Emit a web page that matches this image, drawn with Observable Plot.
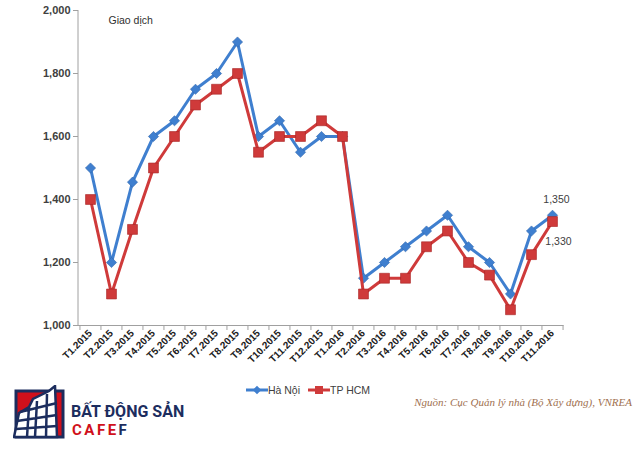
<!DOCTYPE html>
<html>
<head>
<meta charset="utf-8">
<script src="https://cdn.jsdelivr.net/npm/d3@7"></script>
<script src="https://cdn.jsdelivr.net/npm/@observablehq/plot@0.6"></script>
<style>
  html, body { margin: 0; padding: 0; background: #fff; }
  #wrap { position: relative; width: 640px; height: 456px; overflow: hidden; font-family: Arial, "Liberation Sans", sans-serif; }
  #chart svg { display: block; }
  #legend { position: absolute; left: 0; top: 384px; width: 616px; display: flex; justify-content: center; align-items: center; font-size: 10.5px; color: #404040; }
  .lg { display: flex; align-items: center; margin: 0 4px; }
  #source { position: absolute; right: 8px; top: 396px; font-family: "Liberation Serif", "DejaVu Serif", serif; font-style: italic; font-size: 11px; color: #a0704f; }
  #logo { position: absolute; left: 13px; top: 385px; }
  #logotext1 { position: absolute; left: 71px; top: 402px; font-family: "Roboto", Arial, sans-serif; font-weight: 700; font-size: 16px; color: #1c2d5e; letter-spacing: 0px; }
  #logotext2 { position: absolute; left: 72px; top: 421px; font-family: "Roboto", Arial, sans-serif; font-weight: 700; font-size: 15px; color: #d0101b; letter-spacing: 2.5px; }
  #logotext2 span { color: #1c2d5e; }
</style>
</head>
<body>
<div id="wrap">
  <div id="chart"></div>
  <div id="legend"></div>
  <div id="source">Nguồn: Cục Quản lý nhà (Bộ Xây dựng), VNREA</div>
  <svg id="logo" width="54" height="56" viewBox="0 0 54 56">
    <rect x="3" y="6" width="47" height="46" fill="#d0101b" stroke="#1c2d5e" stroke-width="3"/>
    <path d="M1 52 L6 28 L16 22 L20 14 L36 6 L42 1 L44 52 Z" fill="#fff" stroke="#1c2d5e" stroke-width="2.5"/>
    <path d="M4 36 L44 30 M3 44 L44 41 M7 27 L44 18 M16 22 L14 52 M24 16 L22 52 M34 9 L33 52" stroke="#1c2d5e" stroke-width="2.5" fill="none"/>
  </svg>
  <div id="logotext1">BẤT ĐỘNG SẢN</div>
  <div id="logotext2">CAFE<span>F</span></div>
</div>
<script>
const months = ["T1.2015","T2.2015","T3.2015","T4.2015","T5.2015","T6.2015","T7.2015","T8.2015","T9.2015","T10.2015","T11.2015","T12.2015",
                "T1.2016","T2.2016","T3.2016","T4.2016","T5.2016","T6.2016","T7.2016","T8.2016","T9.2016","T10.2016","T11.2016"];
const haNoi = [1500,1200,1455,1600,1650,1750,1800,1900,1600,1650,1550,1600,
               1600,1150,1200,1250,1300,1350,1250,1200,1100,1300,1350];
const hcm   = [1400,1100,1305,1500,1600,1700,1750,1800,1550,1600,1600,1650,
               1600,1100,1150,1150,1250,1300,1200,1160,1050,1225,1330];
const yTicks = [1000,1200,1400,1600,1800,2000];
const seriesNames = ["Hà Nội", "TP HCM"];
const colors = ["#3f7fcf", "#cf3a3a"];

const hn = months.map((m, i) => ({month: m, value: haNoi[i]}));
const hc = months.map((m, i) => ({month: m, value: hcm[i]}));

const W = 640, H = 380, mL = 78, mR = 76.5, mT = 10, mB = 55;
const step = (W - mL - mR) / months.length;
const tickLen = 5 / ((H - mT - mB) / 1000);

const chart = Plot.plot({
  width: W, height: H,
  marginLeft: mL, marginRight: mR, marginTop: mT, marginBottom: mB,
  style: {fontFamily: "Arial, 'Liberation Sans', sans-serif", color: "#404040", background: "#fff"},
  x: {type: "point", domain: months, padding: 0.5, label: null},
  y: {domain: [1000, 2000], ticks: yTicks, label: null, tickFormat: d3.format(",")},
  marks: [
    Plot.ruleY([1000], {stroke: "#a0a0a0"}),
    Plot.axisY({ticks: yTicks, tickSize: 5, tickFormat: d3.format(","), fontWeight: "bold", fontSize: 11, stroke: "#a0a0a0", fill: "#404040", label: null, tickPadding: 3}),
    Plot.ruleX(months, {x: d => d, y1: 1000, y2: 1000 - tickLen, dx: -step / 2, stroke: "#a0a0a0"}),
    Plot.ruleX([months[months.length - 1]], {x: d => d, y1: 1000, y2: 1000 - tickLen, dx: step / 2, stroke: "#a0a0a0"}),
    Plot.axisX({tickSize: 0, tickRotate: -45, fontWeight: "bold", fontSize: 10, fill: "#202020", tickPadding: 6, label: null}),
    Plot.line(hn, {x: "month", y: "value", stroke: colors[0], strokeWidth: 3}),
    Plot.dot(hn, {x: "month", y: "value", symbol: "diamond2", r: 4.6, fill: colors[0], stroke: "#2d64ad", strokeWidth: 0.6}),
    Plot.line(hc, {x: "month", y: "value", stroke: colors[1], strokeWidth: 3}),
    Plot.dot(hc, {x: "month", y: "value", symbol: "square", r: 5.6, fill: colors[1], stroke: "#a82424", strokeWidth: 0.6}),
    Plot.text([hn[hn.length - 1]], {x: "month", y: "value", text: d => d3.format(",")(d.value), dy: -16, dx: 4, fontSize: 10.5, fill: "#404040"}),
    Plot.text([hc[hc.length - 1]], {x: "month", y: "value", text: d => d3.format(",")(d.value), dy: 20, dx: 6, fontSize: 10.5, fill: "#404040"}),
    Plot.text(["Giao dịch"], {frameAnchor: "top-left", text: d => d, dx: 30, dy: 6, fontSize: 10.5, fill: "#303030", textAnchor: "start"})
  ]
});
document.getElementById("chart").appendChild(chart);
// y axis line
d3.select(chart).append("line")
  .attr("x1", mL).attr("x2", mL).attr("y1", mT).attr("y2", H - mB)
  .attr("stroke", "#a0a0a0");

// legend
const legend = document.getElementById("legend");
seriesNames.forEach((name, i) => {
  const item = document.createElement("div");
  item.className = "lg";
  const sym = i === 0
    ? `<rect x="8" y="2" width="6" height="6" transform="rotate(45 11 5)" fill="${colors[0]}"/>`
    : `<rect x="7" y="1" width="8" height="8" fill="${colors[1]}"/>`;
  item.innerHTML = `<svg width="22" height="10"><line x1="0" x2="22" y1="5" y2="5" stroke="${colors[i]}" stroke-width="3"/>${sym}</svg><span>${name}</span>`;
  legend.appendChild(item);
});
</script>
</body>
</html>
